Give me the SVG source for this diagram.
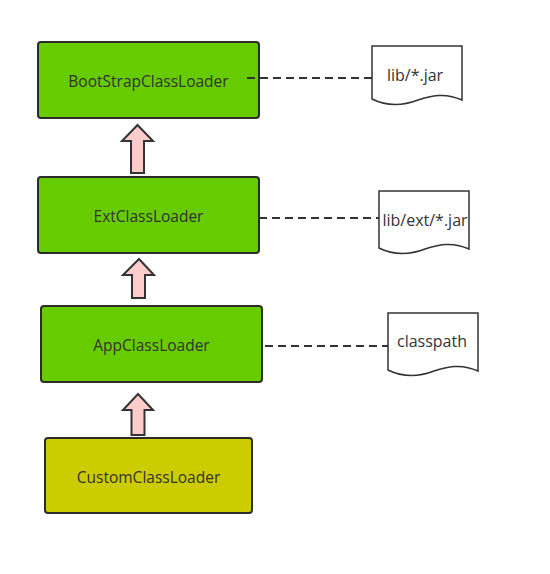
<svg xmlns="http://www.w3.org/2000/svg" width="550" height="574" viewBox="0 0 550 574">
<style>
.box{stroke:#2b2b2b;stroke-width:2}
.g{fill:#66cc00}
.y{fill:#cccc00}
.t{font-family:"Open Sans","Liberation Sans",sans-serif;font-size:15.5px;fill:#333;text-anchor:middle;dominant-baseline:central}
.d{font-size:16px}
.doc{fill:#fff;stroke:#333;stroke-width:1.5}
.dash{stroke:#333;stroke-width:2;stroke-dasharray:8 5;fill:none}
.arr{fill:#ffcccc;stroke:#333;stroke-width:2;stroke-linejoin:miter}
</style>
<rect width="550" height="574" fill="#fff"/>
<g id="boot">
<rect class="box g" x="38" y="42" width="221" height="76" rx="3"/>
<text class="t" x="148.5" y="81">BootStrapClassLoader</text>
</g>
<g id="ext">
<rect class="box g" x="38" y="177" width="221" height="76" rx="3"/>
<text class="t" x="148.5" y="216">ExtClassLoader</text>
</g>
<g id="app">
<rect class="box g" x="41" y="306" width="221" height="76" rx="3"/>
<text class="t" x="151.5" y="345">AppClassLoader</text>
</g>
<g id="custom">
<rect class="box y" x="45" y="438" width="207" height="75" rx="3"/>
<text class="t" x="148.5" y="477">CustomClassLoader</text>
</g>
<g id="doc-lib">
<path class="doc" d="M372,46 L462,46 L462,100 C445,92 430,96 418,100 C405,105 388,107 372,99 Z"/>
<text class="t d" x="415" y="75">lib/*.jar</text>
</g>
<g id="doc-ext">
<path class="doc" d="M379,191 L469,191 L469,249 C452,241 437,245 425,249 C412,254 395,256 379,248 Z"/>
<text class="t d" x="425" y="220">lib/ext/*.jar</text>
</g>
<g id="doc-cp">
<path class="doc" d="M388,313 L478,313 L478,371 C461,363 446,367 434,371 C421,376 404,378 388,370 Z"/>
<text class="t d" x="432" y="341">classpath</text>
</g>
<g id="connectors">
<line class="dash" x1="247" y1="78" x2="372" y2="78"/>
<line class="dash" x1="259" y1="218" x2="379" y2="218"/>
<line class="dash" x1="265" y1="346" x2="388" y2="346"/>
<path class="arr" d="M137.5,125 L153,141 L144,141 L144,173 L131,173 L131,141 L122,141 Z"/>
<path class="arr" d="M139,259 L154,275 L145,275 L145,298 L132,298 L132,275 L123,275 Z"/>
<path class="arr" d="M138,394 L153,410 L144.5,410 L144.5,435 L131.5,435 L131.5,410 L123,410 Z"/>
</g>
</svg>
